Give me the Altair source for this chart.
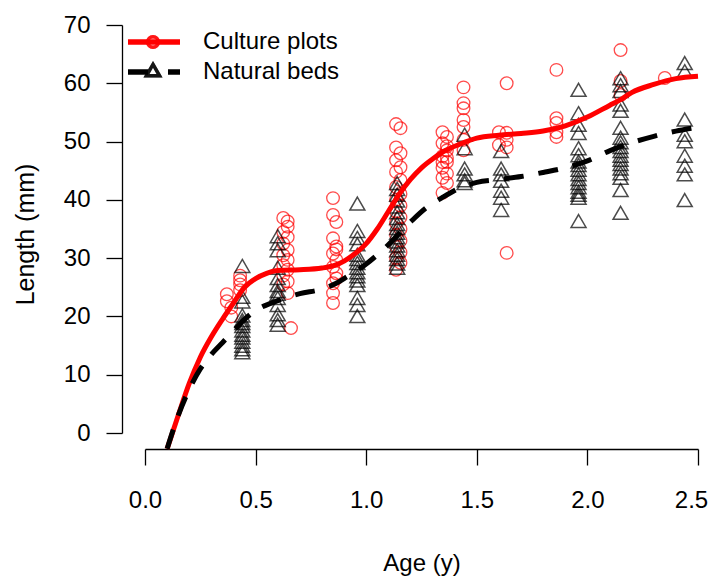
import altair as alt
import pandas as pd

# ---------------- data ----------------
culture_ages = [0.37, 0.39, 0.43, 0.625, 0.645, 0.66, 0.85, 0.865, 1.135, 1.155,
                1.345, 1.365, 1.44, 1.60, 1.635, 1.86, 2.15, 2.35]
culture_lengths = [
    [23.8, 22.6],
    [20.0, 21.5],
    [27.0, 26.2, 25.5, 24.5],
    [36.9, 34.5, 32.5, 30.5, 28.8, 27.0, 25.5],
    [36.3, 35.4, 33.6, 31.4, 29.7, 28.0, 26.0, 24.0],
    [18.0],
    [40.3, 37.4, 33.4, 30.8, 28.5, 25.7, 22.3, 24.0],
    [36.2, 32.0, 29.7, 27.4, 31.5, 26.5],
    [53.0, 49.0, 46.8, 44.8, 42.2, 40.0, 38.0, 36.0, 34.0, 32.0, 30.0, 28.0],
    [52.3, 48.0, 45.6, 43.4, 41.0, 39.0, 37.0, 35.0, 33.0, 31.0, 29.2],
    [51.6, 49.7, 47.5, 45.5, 43.8, 41.2, 46.5],
    [50.8, 48.5, 46.5, 44.5, 42.9, 47.2, 49.2],
    [59.3, 56.6, 55.7, 53.7, 52.5, 50.3, 48.5],
    [51.6, 49.4],
    [60.0, 51.5, 50.3, 49.0, 30.9],
    [62.3, 54.0, 53.2, 51.6, 50.8],
    [65.7, 60.4, 58.0],
    [60.9],
]

natural_ages = [0.44, 0.60, 0.96, 1.14, 1.445, 1.61, 1.96, 2.15, 2.44]
natural_lengths = [
    [28.3, 23.0, 22.2, 19.8, 19.0, 18.5, 18.0, 17.2, 16.5, 16.0, 15.3, 14.6, 14.0, 13.5],
    [33.4, 32.2, 31.0, 28.0, 26.2, 25.0, 24.0, 23.5, 22.8, 21.6, 20.0, 19.0, 18.2],
    [39.0, 34.3, 33.1, 32.0, 30.2, 29.5, 28.8, 28.0, 27.2, 26.5, 25.8, 25.0, 22.8, 21.6, 19.7],
    [42.5, 41.5, 40.5, 39.5, 38.5, 37.5, 36.5, 35.5, 34.8, 34.0, 33.2, 32.5, 31.8, 31.0,
     30.2, 29.5, 28.7, 28.0],
    [50.8, 48.5, 45.0, 44.0, 43.0, 42.5],
    [48.0, 45.0, 44.0, 42.9, 41.2, 40.0, 37.9],
    [58.5, 54.5, 52.5, 51.1, 48.5, 47.3, 46.2, 45.6, 44.8, 44.0, 43.2, 42.5, 41.8, 41.0,
     40.5, 40.0, 36.0],
    [60.5, 59.3, 58.3, 56.0, 54.9, 52.0, 50.3, 49.5, 48.7, 48.0, 47.2, 46.5, 45.8, 45.0,
     44.2, 43.4, 41.3, 37.4],
    [63.1, 61.7, 53.4, 50.8, 49.7, 47.2, 45.5, 44.0, 39.6],
]

culture_fit_age = [0.10, 0.15, 0.20, 0.25, 0.30, 0.35, 0.40, 0.45, 0.50, 0.55, 0.60, 0.70,
                   0.80, 0.86, 0.90, 0.95, 1.00, 1.05, 1.10, 1.15, 1.20, 1.25, 1.30, 1.36,
                   1.42, 1.50, 1.60, 1.70, 1.80, 1.90, 2.00, 2.10, 2.15, 2.20, 2.30, 2.40, 2.50]
culture_fit = [-2.7, 3.0, 8.5, 13.0, 16.5, 19.5, 22.3, 25.0, 26.5, 27.4, 27.9, 28.0,
               28.3, 28.8, 29.5, 30.8, 32.5, 35.0, 38.0, 41.0, 43.5, 45.5, 47.0, 48.5,
               49.5, 50.6, 51.1, 51.4, 51.8, 52.7, 54.2, 56.2, 57.2, 58.4, 59.8, 60.8, 61.2]

natural_fit_age = [0.10, 0.15, 0.20, 0.25, 0.30, 0.35, 0.40, 0.45, 0.50, 0.60, 0.70, 0.80,
                   0.86, 0.90, 1.00, 1.10, 1.20, 1.27, 1.34, 1.42, 1.50, 1.60, 1.70, 1.80,
                   1.90, 2.00, 2.10, 2.20, 2.30, 2.40, 2.47]
natural_fit = [-2.7, 3.0, 7.5, 11.0, 13.5, 15.5, 17.5, 19.5, 21.0, 22.7, 23.9, 24.7,
               25.6, 26.5, 29.0, 32.3, 36.2, 38.6, 40.3, 42.0, 43.0, 43.5, 44.0, 44.7,
               45.5, 46.7, 48.4, 49.8, 50.9, 51.8, 52.3]

x_ticks = [0.0, 0.5, 1.0, 1.5, 2.0, 2.5]
y_ticks = [0, 10, 20, 30, 40, 50, 60, 70]
legend_labels = ["Culture plots", "Natural beds"]

# ---------------- tables ----------------
cult = pd.DataFrame([(a, v) for a, vs in zip(culture_ages, culture_lengths) for v in vs],
                    columns=["age", "length"])
nat = pd.DataFrame([(a, v) for a, vs in zip(natural_ages, natural_lengths) for v in vs],
                   columns=["age", "length"])
cfit = pd.DataFrame({"age": culture_fit_age, "length": culture_fit})
nfit = pd.DataFrame({"age": natural_fit_age, "length": natural_fit})

FONT = "Liberation Sans"
TRI = "M0,-1.155L1,0.577L-1,0.577Z"

x_enc = alt.X("age:Q", scale=alt.Scale(domain=[0, 2.5], nice=False, zero=False),
              axis=alt.Axis(values=x_ticks, format=".1f", labelFontSize=24, labelFont=FONT,
                            tickSize=16, tickWidth=1.3, domainWidth=1.3, offset=16,
                            labelPadding=23, labelFlush=False, labelOverlap=False,
                            labelOffset={"condition": {"test": "datum.value >= 2.5",
                                                       "value": -7},
                                         "value": 0},
                            grid=False, title="Age (y)", titleFont=FONT, titleFontSize=24,
                            titleFontWeight="normal", titleBaseline="alphabetic",
                            titleY=121))
y_enc = alt.Y("length:Q", scale=alt.Scale(domain=[0, 70], nice=False, zero=False),
              axis=alt.Axis(values=y_ticks, labelFontSize=24, labelFont=FONT,
                            tickSize=16, tickWidth=1.3, domainWidth=1.3, offset=23,
                            labelPadding=16, labelFlush=False, labelOverlap=False,
                            grid=False, title="Length (mm)", titleFont=FONT,
                            titleFontSize=25, titleFontWeight="normal",
                            titleBaseline="alphabetic", titleAngle=270,
                            titleX=-89, titleY=209))

circles = alt.Chart(cult).mark_point(shape="circle", filled=False, color="#ff0000",
                                     size=160, strokeWidth=1.3).encode(x=x_enc, y=y_enc)
triangles = alt.Chart(nat).mark_point(shape=TRI, filled=False, color="#000000",
                                      size=225, strokeWidth=1.5).encode(x=x_enc, y=y_enc)
red_line = alt.Chart(cfit).mark_line(color="#ff0000", strokeWidth=5,
                                     interpolate="monotone").encode(x=x_enc, y=y_enc)
black_line = alt.Chart(nfit).mark_line(color="#000000", strokeWidth=5, strokeDash=[20, 15],
                                       strokeCap="butt",
                                       interpolate="monotone").encode(x=x_enc, y=y_enc)

# ---------------- legend (drawn by hand) ----------------
leg = pd.DataFrame({"label": legend_labels})
leg_red_line = alt.Chart(leg).mark_rule(color="#ff0000", strokeWidth=5).encode(
    x=alt.value(-17), x2=alt.value(35), y=alt.value(17))
leg_red_pt = alt.Chart(leg).mark_point(shape="circle", filled=False, color="#ff0000",
                                       size=110, strokeWidth=3.5).encode(
    x=alt.value(8), y=alt.value(17))
leg_blk_line = alt.Chart(leg).mark_rule(color="#000000", strokeWidth=5,
                                        strokeDash=[20, 20], strokeCap="butt").encode(
    x=alt.value(-17), x2=alt.value(35), y=alt.value(47))
leg_blk_pt = alt.Chart(leg).mark_point(shape=TRI, filled=True, fill="#ffffff",
                                       stroke="#000000", size=170, strokeWidth=3.5).encode(
    x=alt.value(8), y=alt.value(47))
leg_text1 = alt.Chart(leg).transform_filter(alt.datum.label == legend_labels[0]).mark_text(
    align="left", baseline="middle", font=FONT, fontSize=24, color="#000000").encode(
    x=alt.value(58), y=alt.value(17), text="label:N")
leg_text2 = alt.Chart(leg).transform_filter(alt.datum.label == legend_labels[1]).mark_text(
    align="left", baseline="middle", font=FONT, fontSize=24, color="#000000").encode(
    x=alt.value(58), y=alt.value(47), text="label:N")

chart = alt.layer(
    circles, triangles, red_line, black_line,
    leg_red_line, leg_red_pt, leg_blk_line, leg_blk_pt, leg_text1, leg_text2,
).properties(
    width=553, height=408,
    autosize=alt.AutoSizeParams(type="none"),
    padding={"left": 137, "top": 17, "right": 12, "bottom": 150},
    background="white",
).configure_view(stroke=None).configure_axis(
    domainColor="#000000", tickColor="#000000", labelColor="#000000", titleColor="#000000"
)

chart.save("out.html", embed_options={"renderer": "svg", "actions": False})
